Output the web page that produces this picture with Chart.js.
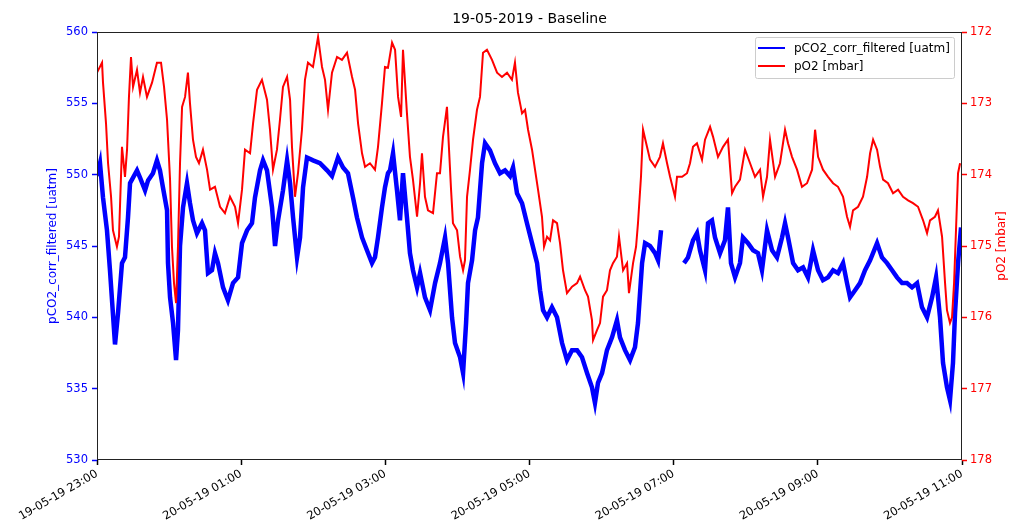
<!DOCTYPE html>
<html>
<head>
<meta charset="utf-8">
<script src="https://cdn.jsdelivr.net/npm/chart.js@4/dist/chart.umd.min.js"></script>
<style>
  html, body { margin: 0; padding: 0; background: #ffffff; }
  #wrap { width: 1010px; height: 527px; position: relative; }
</style>
</head>
<body>
<div id="wrap"><canvas id="c" width="1010" height="527"></canvas></div>
<script>
// ---- data (minutes elapsed since 19-05-19 23:00) ----
const chartTitle = '19-05-2019 - Baseline';
const xTickLabels = ['19-05-19 23:00', '20-05-19 01:00', '20-05-19 03:00', '20-05-19 05:00',
                     '20-05-19 07:00', '20-05-19 09:00', '20-05-19 11:00'];
const pco2Label = 'pCO2_corr_filtered [uatm]';
const po2Label = 'pO2 [mbar]';

const pco2Minutes = [0,2.5,5,8.3,10.8,15,17.5,20.8,23.3,25.8,
  27.5,33.3,35.8,40,42.5,46.6,49.9,52.4,54.9,58.3,
  59.1,60.8,63.3,65.8,67.4,69.1,71.6,74.9,77.4,79.9,
  83.2,87.4,89.9,92.4,95.7,98.2,100.7,104.9,109,113.2,
  117.4,120.7,124.9,129,131.5,135.7,138.2,141.5,145.7,148.2,
  150.7,154.8,158.2,160.7,163.2,166.5,169,171.5,174.8,179.8,
  185.6,191.5,195.6,200.6,204.8,208.9,213.1,216.4,220.6,224.7,
  228.9,231.4,233.9,237.2,239.7,242.2,243.9,246.4,249.7,252.2,
  254.7,258,260.5,263,266.4,268.9,273,277.2,281.4,285.5,
  289.7,292.2,295.5,298,302.2,304.7,307.2,308.8,312.2,314.7,
  317.1,320.5,323,327.1,331.3,335.5,339.6,343.8,346.3,349.6,
  353.8,357.9,362.1,366.3,368.8,371.3,374.6,378.7,382.9,387.1,
  391.2,395.4,399.6,403.7,407.9,412,414.5,417,420.4,424.5,
  428.7,432.8,435.3,439.5,443.7,447.8,450.3,453.7,456.2,460.3,
  464.5,467,469.5,478,488.6,491.9,496.1,499.4,501.9,506.1,
  508.6,511.9,514.4,518.6,522.7,525.2,527.7,531.1,535.2,537.7,
  541.9,546.1,550.2,553.5,557.7,561.9,566,570.2,572.7,575.2,
  579.4,583.5,587.7,591.8,596,600.2,604.3,608.5,612.7,616.8,
  621,624.3,626.8,631,635.1,639.3,643.5,649.3,653.4,657.6,
  661.8,665.9,670.1,674.2,678.4,682.6,686.7,690.9,695.1,698.4,
  701.7,704.2,707.5,710,712.5,714.2,716.7,719.2];

const pco2Values = [549.9,550.8,548.4,546.1,543.3,538.1,540.3,543.8,544.2,547,
  549.4,550.3,549.8,548.9,549.6,550.1,551,550.3,549.1,547.5,
  543.8,541.4,539.6,537,539.1,545,547.7,549.4,548,546.8,
  545.9,546.6,546.1,543.1,543.3,544.5,543.8,542.1,541.2,542.4,
  542.8,545.2,546.1,546.6,548.4,550.3,551,550.3,547.7,545,
  546.8,548.9,551,549.4,547,544.2,545.6,549.1,551.2,551,
  550.8,550.3,549.9,551.2,550.5,550.1,548.4,547,545.6,544.7,
  543.8,544.2,545.6,547.7,549.1,550.1,550.3,551.5,548.9,546.8,
  550.1,547,544.5,543.3,542.1,543.1,541.4,540.5,542.4,543.8,
  545.6,543.8,540,538.2,537.2,536.1,539.6,542.4,544,546.1,
  547,550.8,552.2,551.7,550.8,550.1,550.3,549.9,550.5,548.7,
  548,546.6,545.2,543.8,541.9,540.5,540,540.7,540,538.2,
  537,537.7,537.7,537.2,536.1,535.1,534,535.4,536.1,537.7,
  538.6,539.8,538.6,537.7,537,537.9,539.6,543.8,545.2,545,
  544.5,544,546.1,null,543.8,544.2,545.4,545.9,544.7,543.3,
  546.6,546.8,545.6,544.5,545.4,547.7,543.8,542.8,543.8,545.6,
  545.2,544.7,544.5,543.3,546.1,544.7,544.2,545.6,546.6,545.6,
  543.8,543.3,543.5,542.8,544.7,543.3,542.6,542.8,543.3,543.1,
  543.8,542.4,541.4,541.9,542.4,543.3,544,545.2,544.2,543.8,
  543.3,542.8,542.4,542.4,542.1,542.4,540.7,540,541.4,542.8,
  540,536.8,535.1,534.2,536.8,540.3,543.8,546.3];

const po2Minutes = [0,4.2,5,7.5,9.2,11.7,13.3,16.6,18.3,20.8,
  23.3,25,26.6,28.3,30,33.3,35.8,38.3,41.6,45.8,
  49.9,53.3,55.8,58.3,60.8,62.4,64.1,65.8,67.4,69.1,
  70.8,73.3,75.7,77.4,79.9,82.4,84.9,88.2,91.6,94.1,
  98.2,102.4,106.5,110.7,114.9,117.4,120.7,123.2,127.4,129.9,
  133.2,137.3,141.5,144,146.5,149.8,152.3,154.8,158.2,160.7,
  162.3,164.8,167.3,170.6,173.1,175.6,179.8,184,187.3,189.8,
  192.3,195.6,199.8,203.9,208.1,212.3,214.8,217.3,220.6,223.1,
  227.2,231.4,233.9,237.2,239.7,242.2,245.6,248.1,250.6,253.1,
  254.7,258,260.5,263,266.4,268.9,270.5,273,275.5,279.7,
  283,285.5,288,291.3,292.2,294.7,296.3,299.7,302.2,304.7,
  306.3,308,310.5,313,316.3,318.8,321.3,324.6,328.8,333,
  337.1,341.3,345.4,347.9,350.4,353.8,356.3,358.8,362.1,364.6,
  367.1,370.4,372.1,374.6,377.1,379.6,382.9,385.4,387.9,391.2,
  395.4,399.6,402.1,406.2,408.7,412,412.9,416.2,418.7,421.2,
  424.5,427,429.5,432.8,434.5,437.9,441.2,442.8,446.2,448.7,
  450.3,452.8,454.5,457.8,460.3,464.5,468.6,471.1,474.5,477,
  481.1,482.8,487,491.1,493.6,496.1,499.4,503.6,506.1,510.3,
  512.8,516.9,521.1,525.2,528.6,531.1,535.2,539.4,543.6,547.7,
  551.9,554.4,557.7,560.2,564.4,568.5,572.7,575.2,578.5,582.7,
  586.8,591,595.2,597.7,600.2,604.3,608.5,612.7,616.8,621,
  624.3,626.8,629.3,633.5,637.6,641,643.5,646,649.3,651.8,
  654.3,658.4,662.6,666.8,670.9,675.1,679.2,683.4,687.6,690.9,
  693.4,697.5,700,703.4,705.9,707.5,710,711.7,713.4,715,
  716.7,718.4];

const po2Values = [172.57,172.43,172.71,173.28,173.84,174.31,174.78,175.01,174.87,173.61,
  174.03,173.65,172.91,172.35,172.77,172.53,172.85,172.63,172.91,172.71,
  172.43,172.43,172.77,173.23,174.07,175.01,175.52,175.8,175.01,173.84,
  173.05,172.91,172.57,173,173.51,173.75,173.84,173.65,173.93,174.21,
  174.17,174.45,174.54,174.31,174.45,174.68,174.21,173.65,173.7,173.28,
  172.81,172.67,172.95,173.37,173.93,173.65,173.23,172.77,172.63,172.95,
  173.61,174.31,173.98,173.37,172.67,172.43,172.49,172.07,172.49,172.67,
  173.09,172.57,172.35,172.39,172.29,172.63,172.81,173.28,173.7,173.89,
  173.84,173.93,173.61,173,172.49,172.5,172.15,172.25,172.91,173.19,
  172.25,173.14,173.75,174.07,174.59,174.12,173.7,174.31,174.5,174.54,
  173.98,173.98,173.47,173.05,173.37,174.21,174.68,174.78,175.15,175.34,
  175.2,174.31,173.93,173.51,173.09,172.91,172.29,172.25,172.39,172.57,
  172.63,172.57,172.67,172.43,172.85,173.14,173.09,173.37,173.65,173.93,
  174.21,174.59,175.01,174.87,174.92,174.64,174.68,174.96,175.34,175.66,
  175.57,175.52,175.43,175.62,175.71,176.04,176.32,176.18,176.08,175.71,
  175.62,175.34,175.24,175.15,174.87,175.34,175.24,175.66,175.24,175.01,
  174.68,174.03,173.37,173.61,173.79,173.89,173.75,173.56,173.84,174.03,
  174.31,174.03,174.03,173.98,173.84,173.61,173.56,173.79,173.51,173.33,
  173.47,173.75,173.61,173.51,174.26,174.17,174.07,173.65,173.84,174.03,
  173.93,174.31,174.03,173.51,174.03,173.84,173.37,173.56,173.75,173.93,
  174.17,174.12,173.93,173.37,173.75,173.93,174.03,174.12,174.17,174.31,
  174.59,174.73,174.5,174.45,174.31,174.03,173.7,173.51,173.65,173.89,
  174.07,174.12,174.26,174.21,174.31,174.36,174.4,174.45,174.64,174.82,
  174.64,174.59,174.5,174.87,175.52,175.9,176.08,176,175.52,174.78,
  173.98,173.84];

// ---- chart ----
const FONT = "'DejaVu Sans', 'Liberation Sans', sans-serif";
const BLUE = '#0000ff';
const RED = '#ff0000';

const decorPlugin = {
  id: 'decor',
  afterDatasetsDraw(chart) {
    const ctx = chart.ctx;
    const a = chart.chartArea;
    ctx.save();
    // frame
    ctx.strokeStyle = '#222';
    ctx.lineWidth = 1;
    ctx.strokeRect(a.left + 0.5, a.top + 0.5, a.right - a.left - 1, a.bottom - a.top - 1);
    // title
    ctx.fillStyle = '#000';
    ctx.font = '14px ' + FONT;
    ctx.textAlign = 'center';
    ctx.textBaseline = 'middle';
    ctx.fillText(chartTitle, (a.left + a.right) / 2, 19);
    // axis titles
    const midY = (a.top + a.bottom) / 2;
    ctx.font = '12px ' + FONT;
    ctx.fillStyle = BLUE;
    ctx.save();
    ctx.translate(53, midY);
    ctx.rotate(-Math.PI / 2);
    ctx.fillText(pco2Label, 0, 0);
    ctx.restore();
    ctx.fillStyle = RED;
    ctx.save();
    ctx.translate(1002, midY);
    ctx.rotate(-Math.PI / 2);
    ctx.fillText(po2Label, 0, 0);
    ctx.restore();
    // legend
    const bx = 755, by = 37, bw = 199, bh = 41;
    ctx.fillStyle = 'rgba(255,255,255,0.8)';
    ctx.strokeStyle = '#cccccc';
    ctx.lineWidth = 1;
    ctx.beginPath();
    if (ctx.roundRect) { ctx.roundRect(bx + 0.5, by + 0.5, bw, bh, 2); } else { ctx.rect(bx + 0.5, by + 0.5, bw, bh); }
    ctx.fill();
    ctx.stroke();
    const items = chart.data.datasets.map(d => ({ label: d.label, color: d.borderColor }));
    const rowsY = [48, 66];
    ctx.font = '12px ' + FONT;
    ctx.textAlign = 'left';
    ctx.textBaseline = 'middle';
    items.forEach((it, i) => {
      ctx.strokeStyle = it.color;
      ctx.lineWidth = 2;
      ctx.beginPath();
      ctx.moveTo(758, rowsY[i]);
      ctx.lineTo(785, rowsY[i]);
      ctx.stroke();
      ctx.fillStyle = '#000';
      ctx.fillText(it.label, 794, rowsY[i] + 0.5);
    });
    ctx.restore();
  }
};

new Chart(document.getElementById('c'), {
  type: 'line',
  data: {
    datasets: [
      {
        label: pco2Label,
        data: pco2Minutes.map((m, i) => ({ x: m, y: pco2Values[i] })),
        borderColor: BLUE,
        backgroundColor: BLUE,
        borderWidth: 4.5,
        pointRadius: 0,
        tension: 0,
        spanGaps: false,
        yAxisID: 'y',
        order: 2
      },
      {
        label: po2Label,
        data: po2Minutes.map((m, i) => ({ x: m, y: po2Values[i] })),
        borderColor: RED,
        backgroundColor: RED,
        borderWidth: 2,
        pointRadius: 0,
        tension: 0,
        yAxisID: 'y2',
        order: 1
      }
    ]
  },
  options: {
    responsive: false,
    animation: false,
    devicePixelRatio: 1,
    layout: { padding: { top: 32, left: 0, right: 0, bottom: 0 } },
    plugins: {
      legend: { display: false },
      title: { display: false },
      tooltip: { enabled: false }
    },
    scales: {
      x: {
        type: 'linear',
        min: 0,
        max: 720,
        offset: false,
        afterFit(scale) { scale.height = 67; },
        border: { display: false },
        grid: { display: true, drawOnChartArea: false, drawTicks: true, tickLength: 5, tickColor: '#000', tickWidth: 1.5 },
        ticks: {
          stepSize: 120,
          autoSkip: false,
          minRotation: 30,
          maxRotation: 30,
          padding: 2,
          color: '#000',
          font: { family: FONT, size: 11.5 },
          callback: (v) => xTickLabels[Math.round(v / 120)]
        }
      },
      y: {
        type: 'linear',
        position: 'left',
        min: 530,
        max: 560,
        afterFit(scale) { scale.width = 97; },
        border: { display: false },
        grid: { display: true, drawOnChartArea: false, drawTicks: true, tickLength: 5, tickColor: BLUE, tickWidth: 1.5 },
        ticks: { stepSize: 5, padding: 4, color: BLUE, font: { family: FONT, size: 11.5 } }
      },
      y2: {
        type: 'linear',
        position: 'right',
        min: 172,
        max: 178,
        reverse: true,
        afterFit(scale) { scale.width = 48; },
        border: { display: false },
        grid: { display: true, drawOnChartArea: false, drawTicks: true, tickLength: 5, tickColor: RED, tickWidth: 1.5 },
        ticks: { stepSize: 1, padding: 3, color: RED, font: { family: FONT, size: 11.5 } }
      }
    }
  },
  plugins: [decorPlugin]
});
</script>
</body>
</html>
